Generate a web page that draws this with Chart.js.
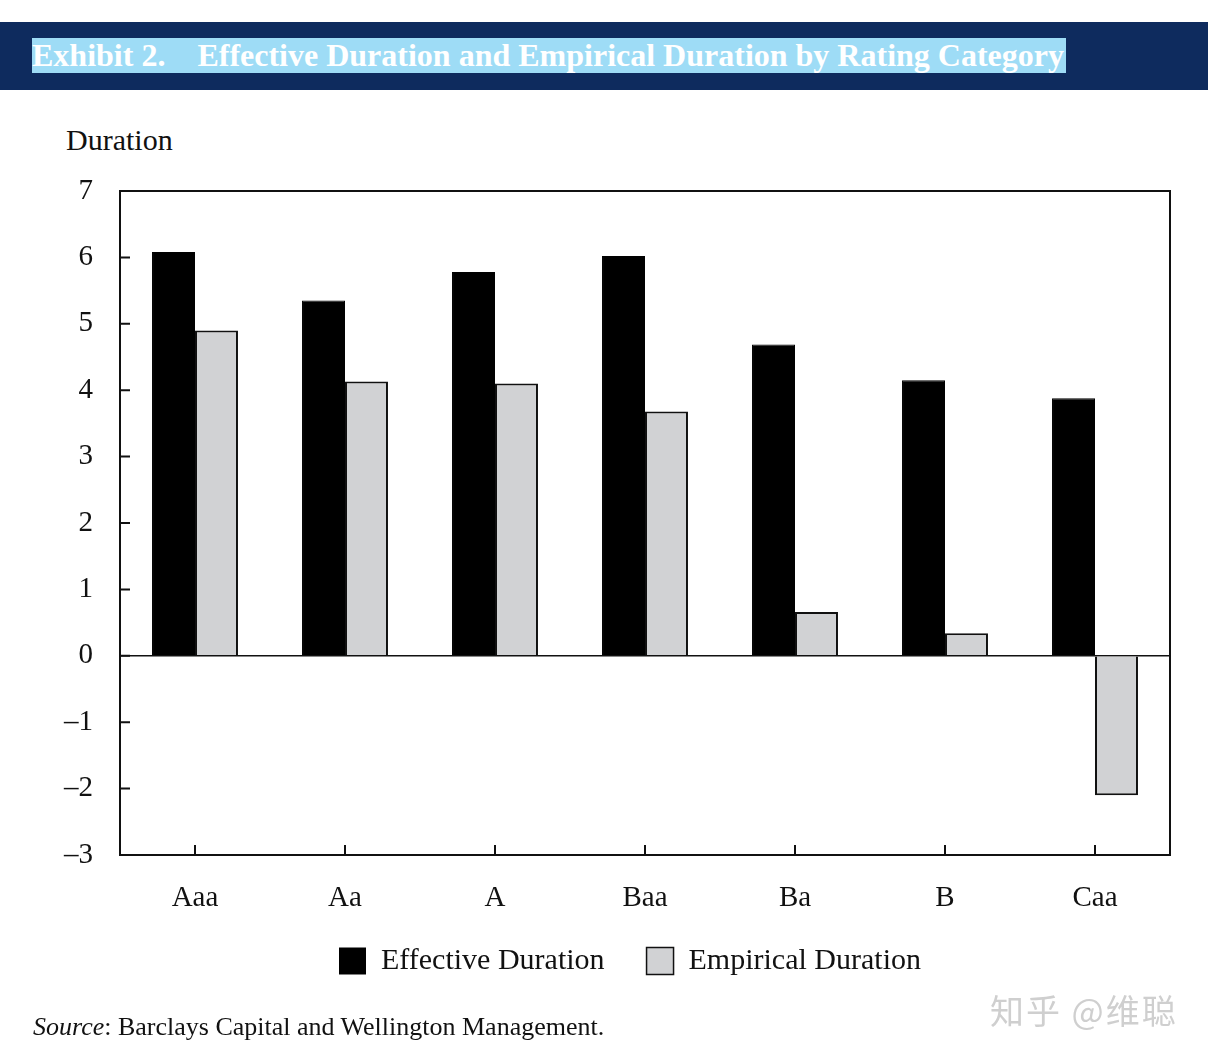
<!DOCTYPE html>
<html>
<head>
<meta charset="utf-8">
<script src="https://cdn.jsdelivr.net/npm/chart.js@4"></script>
<style>
  html, body { margin: 0; padding: 0; background: #fff; overflow: hidden; }
  body { width: 1208px; height: 1058px; position: relative; font-family: "Liberation Serif", "Times New Roman", serif; }
  .band { position: absolute; left: 0; top: 22px; width: 1208px; height: 68px; background: #0e2b5e; }
  .band span { position: absolute; left: 32px; top: 16px; height: 35px; line-height: 35px; padding-right: 2px;
    background: #9edcf6; color: #fff; font-weight: bold; font-size: 32px; white-space: pre; }
  .ylab { position: absolute; left: 66px; top: 123px; font-size: 30px; color: #111; }
  .wrap { position: absolute; left: 56px; top: 100px; width: 1208px; height: 940px; }
  .source { position: absolute; left: 33px; top: 1012px; font-size: 26px; color: #111; }
  .mark { position: absolute; left: 990px; top: 985px; font-family: "Noto Sans CJK SC", sans-serif; font-size: 34px; letter-spacing: 2px; color: #cfcfcf; }
</style>
</head>
<body>
<div class="band"><span>Exhibit 2.    Effective Duration and Empirical Duration by Rating Category</span></div>
<div class="ylab">Duration</div>
<div class="wrap"><canvas id="chart"></canvas></div>
<div class="source"><i>Source</i>: Barclays Capital and Wellington Management.</div>
<div class="mark">知乎 @维聪</div>
<script>
const categories = ['Aaa', 'Aa', 'A', 'Baa', 'Ba', 'B', 'Caa'];
const effective = [6.08, 5.35, 5.78, 6.02, 4.69, 4.15, 3.88];
const empirical = [4.90, 4.13, 4.10, 3.68, 0.66, 0.34, -2.10];
const yMin = -3, yMax = 7;

const serif = '"Liberation Serif", "Times New Roman", serif';

// box round the plot plus the short inward ticks
const frame = {
    id: 'frame',
    afterDraw(chart) {
        const { ctx, chartArea: a, scales } = chart;
        ctx.save();
        ctx.strokeStyle = '#111';
        ctx.lineWidth = 2;
        ctx.strokeRect(a.left, a.top, a.right - a.left, a.bottom - a.top);
        ctx.beginPath();
        scales.y.ticks.forEach((t, i) => {
            const y = scales.y.getPixelForTick(i);
            ctx.moveTo(a.left, y);
            ctx.lineTo(a.left + 10, y);
        });
        scales.x.ticks.forEach((t, i) => {
            const x = scales.x.getPixelForTick(i);
            ctx.moveTo(x, a.bottom);
            ctx.lineTo(x, a.bottom - 10);
        });
        ctx.stroke();
        ctx.restore();
    }
};

new Chart(document.getElementById('chart'), {
    type: 'bar',
    data: {
        labels: categories,
        datasets: [
            { label: 'Effective Duration', data: effective, backgroundColor: '#000', borderColor: '#000', borderWidth: 1 },
            { label: 'Empirical Duration', data: empirical, backgroundColor: '#d1d2d4', borderColor: '#111', borderWidth: 2 }
        ]
    },
    options: {
        responsive: true,
        maintainAspectRatio: false,
        animation: false,
        datasets: { bar: { categoryPercentage: 0.573, barPercentage: 1.0 } },
        layout: { padding: { top: 91, left: 0, right: 94, bottom: 54 } },
        plugins: {
            tooltip: { enabled: false },
            legend: {
                position: 'bottom',
                fullSize: false,
                labels: {
                    boxWidth: 27, boxHeight: 27, padding: 12, color: '#111',
                    font: { family: serif, size: 30 },
                    generateLabels(chart) {
                        const items = Chart.defaults.plugins.legend.labels.generateLabels(chart);
                        items[0].text += '    ';
                        items[1].text += '    ';
                        items[0].lineWidth = 0;
                        items[1].lineWidth = 1.5;
                        return items;
                    }
                }
            }
        },
        scales: {
            x: {
                grid: { display: false, drawTicks: false },
                border: { display: false },
                ticks: { color: '#111', padding: 26, font: { family: serif, size: 29 } },
                afterFit(s) { s.height = 79; }
            },
            y: {
                min: yMin, max: yMax,
                grid: {
                    drawTicks: false,
                    color: c => c.tick && c.tick.value === 0 ? '#111' : 'rgba(0,0,0,0)',
                    lineWidth: 1.5
                },
                border: { display: false },
                ticks: {
                    stepSize: 1, color: '#111', padding: 27,
                    font: { family: serif, size: 29 },
                    callback: v => String(v).replace('-', '\u2013')
                },
                afterFit(s) { s.width = 64; }
            }
        }
    },
    plugins: [frame]
});
</script>
</body>
</html>
